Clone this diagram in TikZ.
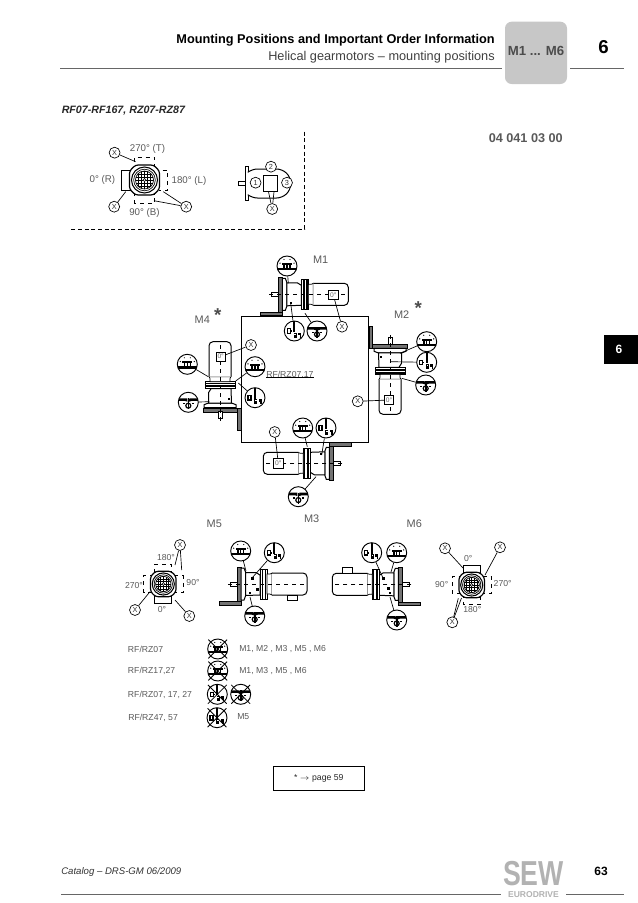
\documentclass[tikz,border=0pt]{standalone}
\usepackage{fontspec}
\setmainfont{Liberation Sans}
\usetikzlibrary{positioning}

\newcommand{\fsz}[1]{\fontsize{#1}{#1}\selectfont}
\newcommand{\crossnode}[1]{\draw[line width=.6pt] ([shift={(-2,-2)}]#1.135) -- ([shift={(2,2)}]#1.-45); \draw[line width=.6pt] ([shift={(2,-2)}]#1.45) -- ([shift={(-2,2)}]#1.-135);}

\tikzset{
    lbl/.style={text=black!65, font=\fsz{6.5}, inner sep=0pt},
    keylbl/.style={text=black!65, font=\fsz{7.3}, inner sep=0pt},
    mlbl/.style={text=black!65, font=\fsz{8.2}, inner sep=0pt},
    starlbl/.style={text=black!70, font=\fsz{14}\bfseries, inner sep=0pt},
    wire/.style={line width=.5pt},
    part/.style={line width=.75pt, fill=white},
    xmark/.style={circle, draw, fill=white, line width=.5pt, minimum size=8.2pt, inner sep=0pt, text=black!80, font=\fsz{5.5}},
    posbox/.style={draw, fill=white, line width=.5pt, minimum size=7.2pt, inner sep=0pt, text=black!60, font=\fsz{5}},
    symb/.style={circle, draw, fill=white, line width=.7pt, minimum size=15pt, inner sep=0pt},
    topsym/.style={symb, path picture={\begin{scope}[shift={(path picture bounding box.center)}, fill=black]
        \fill (-10,1.8) rectangle (10,4.4);
        \fill (-5,-3) rectangle (5,-1.2);
        \foreach \q in {-3.6,-.7,2.2} {\fill (\q,-2) rectangle ({\q+1.4},2);}
        \foreach \q in {-7,7} {\fill (\q,-2.8) circle (.7);}
        \foreach \q in {-3,3} {\fill (\q,-6.5) circle (.6);}
    \end{scope}}},
    sidesym/.style={symb, path picture={\begin{scope}[shift={(path picture bounding box.center)}, xscale=#1, fill=black]
        \fill (-1.1,-10) rectangle (1.1,1);
        \draw[line width=.9pt] (-7,-2.2) rectangle (-4,2.2);
        \fill (-4,-.8) rectangle (-2.6,.8);
        \fill (-.8,1.5) rectangle (2.4,6.5);
        \fill[white] (.1,2.6) rectangle (1.5,3.5);
        \fill (3.6,1.5) rectangle (6.6,4.4);
        \fill (5.4,4) rectangle (6.6,6.5);
    \end{scope}}},
    botsym/.style={symb, path picture={\begin{scope}[shift={(path picture bounding box.center)}, fill=black]
        \fill (-10,-4) -- (-1,-4) -- (-.8,-.6) -- (-3.4,-1.4) -- (-10,-1.4) -- cycle;
        \fill (10,-4) -- (1,-4) -- (.8,-.6) -- (3.4,-1.4) -- (10,-1.4) -- cycle;
        \fill (-.8,-4) rectangle (.8,7);
        \draw[line width=.9pt] (0,3.4) circle (2.5);
        \fill (-5.4,.5) rectangle (-3.4,2);
        \fill (3.4,.5) rectangle (5.4,2);
    \end{scope}}},
    pics/gearmotor/.style={code={
        \fill[black!55] (-4,-17) rectangle (0,21);
        \draw[line width=.3pt] (-4,-17) rectangle (0,21);
        \fill[black!55] (-22,17.5) rectangle (0,21);
        \draw[line width=.3pt] (-22,17.5) rectangle (0,21);
        \draw[wire, fill=white] (-11,-2) rectangle (-4,2);
        \draw[part] (0,-16) -- (3,-16) -- (4.5,-12) -- (4.5,12) -- (3,16) -- (0,16) -- cycle;
        \draw[part] (4.5,-11.5) -- (15,-11.5) -- (19,-9) -- (19,11) -- (4.5,11.5) -- cycle;
        \fill (7.5,8) rectangle (9.5,10);
        \draw[part] (19,-15) rectangle (26,15);
        \fill (20.5,-15) rectangle (22.4,15);
        \fill (24,-15) rectangle (25.2,15);
        \draw[wire, fill=white] (26,-10) -- (29,-10) -- (31,-11) -- (31,11) -- (29,10) -- (26,10) -- cycle;
        \draw[part, rounded corners=3pt] (31,-11) -- (66,-11) -- (66,11) -- (31,11);
        \draw[line width=.4pt, dashed] (-13,0) -- (63,0);
    }},
    pics/endview/.style={code={
        \draw[line width=.7pt, fill=white] (-14,-10) rectangle (-23,10);
        \foreach \a in {90,180,270} {
            \draw[wire, dashed, fill=white, rotate=\a] (-14,-10) rectangle (-23,10);
        }
        \draw[line width=.9pt, fill=white, rounded corners=2pt] (-15,-9) -- (-9,-15) -- (9,-15) -- (15,-9) -- (15,9) -- (9,15) -- (-9,15) -- (-15,9) -- cycle;
        \draw[line width=.8pt] (0,0) circle (13);
        \draw[line width=.5pt] (0,0) circle (10.8);
        \begin{scope}
            \clip (0,0) circle (9);
            \foreach \g in {-9,-6,...,9} {
                \draw[line width=.4pt] (\g,-9) -- (\g,9);
                \draw[line width=.4pt] (-9,\g) -- (9,\g);
            }
            \draw[line width=.4pt, fill=white] (0,0) circle (1.6);
        \end{scope}
        \draw[line width=.5pt] (0,0) circle (9);
    }},
}

\begin{document}
\begin{tikzpicture}[x=.75pt, y=-.75pt]
    \useasboundingbox (0,0) rectangle (638,903);

    % page head
    \node[anchor=east, inner sep=0pt, font=\fsz{9.55}\bfseries] (title) at (495,40) {Mounting Positions and Important Order Information};
    \node[anchor=east, inner sep=0pt, font=\fsz{9.55}, text=black!75] (subtitle) at (495,57) {Helical gearmotors -- mounting positions};
    \coordinate (headA) at (60,68.3);
    \coordinate (headB) at (502,68.3);
    \coordinate (headC) at (570,68.3);
    \coordinate (headD) at (624,68.3);
    \draw[black!60, line width=.6pt] (headA) -- (headB);
    \draw[black!60, line width=.6pt] (headC) -- (headD);
    \fill[black!22, rounded corners=5pt] (505,21.7) rectangle (567,84);
    \node[text=black!70, font=\fsz{9.9}\bfseries, inner sep=0pt] (tabM) at (536,51) {M1 ... M6};
    \node[font=\fsz{14}\bfseries, inner sep=0pt] (chapter) at (603.5,47) {6};
    \fill[black] (604.3,335) rectangle (638,364);
    \node[text=white, font=\fsz{9}\bfseries, inner sep=0pt] (sidetab) at (619,349.5) {6};
    \node[anchor=west, inner sep=0pt, font=\fsz{8}\bfseries\itshape, text=black!85] (types) at (61.5,111) {RF07-RF167, RZ07-RZ87};
    \node[anchor=east, inner sep=0pt, font=\fsz{9.5}\bfseries, text=black!65] (partno) at (563,138) {04 041 03 00};

    % dashed key
    \coordinate (keyA) at (304.6,131.7);
    \coordinate (keyB) at (304.6,229);
    \coordinate (keyC) at (71,229);
    \draw[line width=.6pt, densely dashed] (keyA) -- (keyB) -- (keyC);
    \pic at (144.5,180) {endview};
    \node[keylbl] (keyT) at (147.5,149.3) {270° (T)};
    \node[keylbl] (keyR) at (102.4,180) {0° (R)};
    \node[keylbl] (keyL) at (189,180.7) {180° (L)};
    \node[keylbl] (keyBt) at (144.5,213.3) {90° (B)};
    \node[xmark] (keyX1) at (114.6,152.7) {X};
    \node[xmark] (keyX2) at (114.2,206.7) {X};
    \node[xmark] (keyX3) at (186.2,206.7) {X};
    \coordinate (keyE1) at (135.6,161.7);
    \coordinate (keyE2) at (125.7,191.7);
    \coordinate (keyE3) at (163.3,191.7);
    \coordinate (keyE4) at (154,200.7);
    \draw[wire] (keyX1) -- (keyE1);
    \draw[wire] (keyX2) -- (keyE2);
    \draw[wire] (keyX3) -- (keyE3);
    \draw[wire] (keyX3) -- (keyE4);

    \draw[part] (245.6,166.7) rectangle (248.2,200);
    \draw[wire, fill=white] (238,181) rectangle (245.6,185.7);
    \draw[part, rounded corners=4pt] (248.2,172) -- (252,169) -- (282,169) -- (290.6,177) -- (290.6,190) -- (282,198) -- (252,198) -- (248.2,195);
    \draw[part] (263,175.7) rectangle (277.7,191.7);
    \node[xmark] (side1) at (255.6,182.7) {1};
    \node[xmark] (side2) at (271,166.7) {2};
    \node[xmark] (side3) at (287,182.7) {3};
    \node[xmark] (sideX) at (272.2,209) {X};
    \coordinate (sideE1) at (268.5,191.7);
    \coordinate (sideE2) at (274,191.7);
    \draw[wire] (sideX) -- (sideE1);
    \draw[wire] (sideX) -- (sideE2);

    % wall
    \draw[line width=.6pt] (241.7,316) rectangle (368.7,442.3);
    \node[anchor=west, lbl] (rfnote) at (266,374) {RF/RZ07.17};
    \draw[wire] (rfnote.south west) -- (rfnote.south east);

    % M1
    \pic at (282.3,294.3) {gearmotor};
    \node[mlbl] (M1) at (320.7,260) {M1};
    \node[posbox] (M1box) at (333.3,295) {0°};
    \node[topsym] (M1a) at (287,266) {};
    \node[sidesym=1] (M1b) at (294.3,331) {};
    \node[botsym] (M1c) at (317,331) {};
    \node[xmark] (M1x) at (342,326.7) {X};
    \coordinate (M1ea) at (288.3,283.3);
    \coordinate (M1eb) at (290.7,303.3);
    \coordinate (M1ec) at (305,313.3);
    \draw[wire] (M1a) -- (M1ea);
    \draw[wire] (M1b) -- (M1eb);
    \draw[wire] (M1c) -- (M1ec);
    \draw[wire] (M1x) -- (M1box);

    % M2
    \pic[rotate=-90] at (390,348.3) {gearmotor};
    \node[mlbl] (M2) at (401.7,315) {M2};
    \node[starlbl] (M2s) at (418.3,308.5) {*};
    \node[posbox] (M2box) at (389,400) {0°};
    \node[topsym] (M2a) at (426.7,341.7) {};
    \node[sidesym=1] (M2b) at (426.7,362.3) {};
    \node[botsym] (M2c) at (425.7,385) {};
    \node[xmark] (M2x) at (357.7,401.3) {X};
    \coordinate (M2ea) at (400,353.3);
    \coordinate (M2eb) at (390,361.7);
    \coordinate (M2ec) at (401.7,378.3);
    \draw[wire] (M2a) -- (M2ea);
    \draw[wire] (M2b) -- (M2eb);
    \draw[wire] (M2c) -- (M2ec);
    \draw[wire] (M2x) -- (M2box);

    % M3
    \pic[rotate=180] at (329.3,463.3) {gearmotor};
    \node[mlbl] (M3) at (311.7,519) {M3};
    \node[posbox] (M3box) at (278.3,463.3) {0°};
    \node[topsym] (M3a) at (302.7,428) {};
    \node[sidesym=1] (M3b) at (326,428) {};
    \node[botsym] (M3c) at (298.3,496.7) {};
    \node[xmark] (M3x) at (274.7,432) {X};
    \coordinate (M3ea) at (307.3,446.7);
    \coordinate (M3eb) at (321.7,455);
    \coordinate (M3ec) at (316,476.7);
    \draw[wire] (M3a) -- (M3ea);
    \draw[wire] (M3b) -- (M3eb);
    \draw[wire] (M3c) -- (M3ec);
    \draw[wire] (M3x) -- (M3box);

    % M4
    \pic[rotate=90] at (220,407.7) {gearmotor};
    \node[mlbl] (M4) at (202.3,320) {M4};
    \node[starlbl] (M4s) at (217.7,315) {*};
    \node[posbox] (M4box) at (220.7,356.7) {0°};
    \node[topsym] (M4a) at (187.3,364.3) {};
    \node[topsym] (M4d) at (255,366.7) {};
    \node[sidesym=-1] (M4b) at (255,397.7) {};
    \node[botsym] (M4c) at (188.3,402.3) {};
    \node[xmark] (M4x) at (251,345) {X};
    \coordinate (M4ea) at (208.3,376.7);
    \coordinate (M4ed) at (235.7,381);
    \coordinate (M4eb) at (238.3,383);
    \coordinate (M4ec) at (209.3,401.7);
    \draw[wire] (M4a) -- (M4ea);
    \draw[wire] (M4d) -- (M4ed);
    \draw[wire] (M4b) -- (M4eb);
    \draw[wire] (M4c) -- (M4ec);
    \draw[wire] (M4x) -- (M4box);

    % M5
    \pic[rotate=90, scale=.85] at (163.3,584) {endview};
    \node[mlbl] (M5) at (214.3,524) {M5};
    \node[lbl] (M5t) at (166,558) {180°};
    \node[lbl] (M5r) at (193,583) {90°};
    \node[lbl] (M5l) at (134,586) {270°};
    \node[lbl] (M5b) at (162,610) {0°};
    \node[xmark] (M5x1) at (180,545) {X};
    \node[xmark] (M5x2) at (135,610) {X};
    \node[xmark] (M5x3) at (189.3,616) {X};
    \coordinate (M5e1) at (175,565);
    \coordinate (M5e2) at (181.7,570);
    \coordinate (M5e3) at (150,591.7);
    \coordinate (M5e4) at (175,600);
    \draw[wire] (M5x1) -- (M5e1);
    \draw[wire] (M5x1) -- (M5e2);
    \draw[wire] (M5x2) -- (M5e3);
    \draw[wire] (M5x3) -- (M5e4);
    \pic at (241,584) {gearmotor};
    \draw[wire, fill=white] (287.7,595) rectangle (297.7,600);
    \fill (251,577) rectangle (254,580);
    \fill (256,588) rectangle (259,591);
    \node[topsym] (M5a) at (240.7,551) {};
    \node[sidesym=1] (M5c) at (274.3,552.7) {};
    \node[botsym] (M5d) at (254.7,616) {};
    \coordinate (M5ea) at (246,571);
    \coordinate (M5ec) at (252,578);
    \coordinate (M5ed) at (250,597);
    \draw[wire] (M5a) -- (M5ea);
    \draw[wire] (M5c) -- (M5ec);
    \draw[wire] (M5d) -- (M5ed);

    % M6
    \pic[xscale=-1] at (398.3,584.3) {gearmotor};
    \draw[wire, fill=white] (342.3,567.3) rectangle (352.3,573);
    \fill (382,577) rectangle (385,580);
    \fill (387,587) rectangle (390,590);
    \node[mlbl] (M6) at (414.3,524) {M6};
    \node[sidesym=1] (M6b) at (371.7,552.7) {};
    \node[topsym] (M6a) at (396.7,552.7) {};
    \node[botsym] (M6c) at (396.7,620) {};
    \coordinate (M6eb) at (383,578);
    \coordinate (M6ea) at (391,572);
    \coordinate (M6ec) at (390,597);
    \draw[wire] (M6b) -- (M6eb);
    \draw[wire] (M6a) -- (M6ea);
    \draw[wire] (M6c) -- (M6ec);
    \pic[rotate=-90, scale=.85] at (471.7,585) {endview};
    \node[lbl] (M6t) at (468.3,558.3) {0°};
    \node[lbl] (M6l) at (441.7,585) {90°};
    \node[lbl] (M6r) at (502.7,584) {270°};
    \node[lbl] (M6d) at (472.3,610) {180°};
    \node[xmark] (M6x1) at (445,548.3) {X};
    \node[xmark] (M6x2) at (500,547.3) {X};
    \node[xmark] (M6x3) at (452.3,622.3) {X};
    \coordinate (M6e1) at (463.3,568.3);
    \coordinate (M6e2) at (485,575);
    \coordinate (M6e3) at (458.3,598.3);
    \coordinate (M6e4) at (461.5,598);
    \draw[wire] (M6x1) -- (M6e1);
    \draw[wire] (M6x2) -- (M6e2);
    \draw[wire] (M6x3) -- (M6e3);
    \draw[wire] (M6x3) -- (M6e4);

    % restrictions
    \node[anchor=west, lbl] (R1) at (127.7,649) {RF/RZ07};
    \node[anchor=west, lbl] (R2) at (127.7,671) {RF/RZ17,27};
    \node[anchor=west, lbl] (R3) at (127.7,695) {RF/RZ07, 17, 27};
    \node[anchor=west, lbl] (R4) at (128,718) {RF/RZ47, 57};
    \node[topsym] (S1) at (217.7,649) {};
    \node[topsym] (S2) at (217.7,671) {};
    \node[sidesym=1] (S3) at (217.3,694.3) {};
    \node[botsym] (S4) at (240.7,694.3) {};
    \node[sidesym=1] (S5) at (217,717.7) {};
    \foreach \s in {S1,S2,S3,S4,S5} {\crossnode{\s}}
    \node[anchor=west, lbl] (T1) at (239,649) {M1, M2 , M3 , M5 , M6};
    \node[anchor=west, lbl] (T2) at (239,671) {M1, M3 , M5 , M6};
    \node[anchor=west, lbl] (T4) at (237,717) {M5};

    \node[draw, line width=.6pt, minimum width=68.2pt, minimum height=18.2pt, inner sep=0pt, font=\fsz{6.5}, text=black!85] (pageref) at (318.8,778.2) {* $\rightarrow$ page 59};

    % page foot
    \node[anchor=west, inner sep=0pt, font=\fsz{7.2}\itshape, text=black!80] (catalog) at (61,872.3) {Catalog -- DRS-GM 06/2009};
    \node[inner sep=0pt, font=\fsz{9}\bfseries] (pageno) at (601,871) {63};
    \coordinate (footA) at (61,894);
    \coordinate (footB) at (501,894);
    \coordinate (footC) at (566,894);
    \coordinate (footD) at (624,894);
    \draw[black!60, line width=.6pt] (footA) -- (footB);
    \draw[black!60, line width=.6pt] (footC) -- (footD);
    \node[inner sep=0pt, text=black!30, font=\fsz{20}\bfseries] (logo) at (533.5,873.5) {\scalebox{1}[1.3]{SEW}};
    \node[inner sep=0pt, text=black!30, font=\fsz{6.4}\bfseries] (logotext) at (533.5,895) {EURODRIVE};
\end{tikzpicture}
\end{document}
